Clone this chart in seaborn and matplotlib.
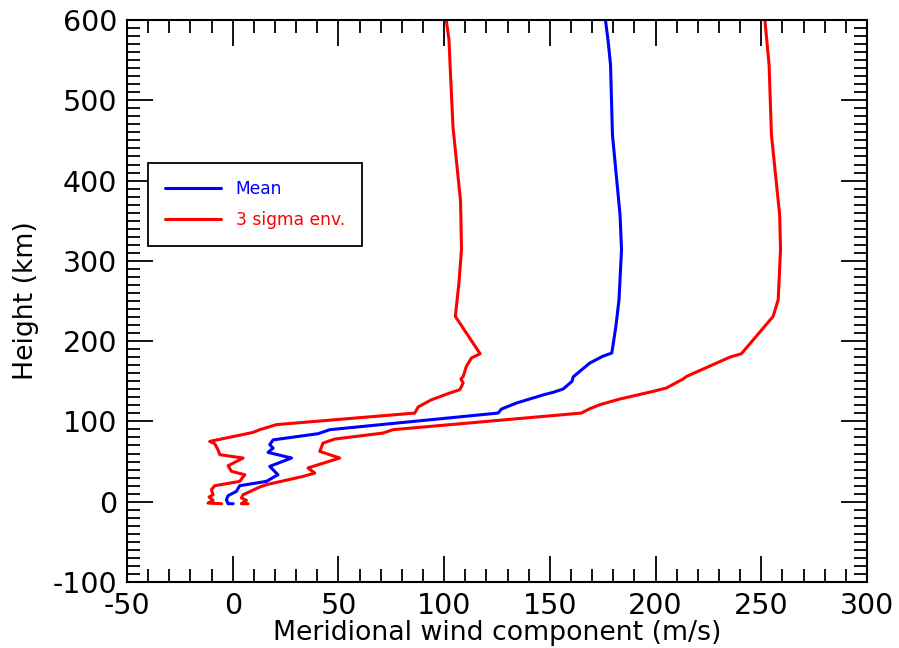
import numpy as np
import pandas as pd
import matplotlib
matplotlib.use('Agg')
import matplotlib.pyplot as plt
import seaborn as sns
from matplotlib.ticker import MultipleLocator

# Mean meridional wind profile (m/s) vs height (km)
mean_u = [0.2, -2.2, -3.0, -2.2, 1.7, 3.3, 15.9, 21.4, 17.5, 27.8, 16.7, 19.1, 17.5, 19.1,
          40.4, 45.9, 125.5, 127.1, 134.2, 146.8, 151.5, 156.3, 160.5, 161.0, 164.1, 168.9,
          174.9, 179.3, 181.2, 182.7, 183.9, 183.2, 179.6, 178.7, 177.5, 176.3]
mean_h = [-2.5, -2.5, 2.5, 7.5, 12.8, 19.9, 25.3, 33.6, 44.0, 54.4, 61.4, 66.8, 71.0, 77.0,
          84.7, 89.7, 110.4, 115.4, 122.9, 133.0, 136.2, 140.4, 150.0, 155.3, 162.3, 172.7,
          181.0, 185.2, 218.0, 251.6, 314.0, 357.0, 457.0, 544.0, 575.0, 600.0]

# Lower 3 sigma envelope
low_u = [-5.3, -11.7, -9.3, -11.2, -9.3, -10.1, -8.5, 3.3, 5.7, -0.6, -2.2, 4.9, -6.1, -7.0,
         -8.5, -10.9, 9.6, 12.8, 20.7, 86.1, 87.7, 94.0, 102.6, 107.4, 109.0, 107.9, 109.0,
         110.5, 112.9, 117.0, 105.3, 107.0, 108.2, 107.9, 107.7, 104.2, 102.8, 102.3, 101.0]
low_h = [-2.5, -1.7, 1.7, 5.8, 8.7, 14.9, 19.9, 25.3, 33.6, 37.8, 44.8, 54.4, 58.5, 64.8,
         72.2, 75.1, 86.3, 89.7, 96.0, 110.4, 118.0, 127.0, 135.3, 139.5, 147.8, 152.8, 156.0,
         168.5, 179.0, 184.3, 230.8, 272.7, 314.0, 357.0, 376.0, 466.0, 544.0, 575.0, 600.0]

# Upper 3 sigma envelope
high_u = [7.2, 4.1, 6.5, 4.1, 4.9, 12.8, 15.9, 33.3, 38.8, 35.6, 50.6, 41.2, 42.7, 48.2,
          71.1, 75.8, 164.9, 168.9, 173.6, 183.1, 198.8, 205.1, 213.0, 214.6, 235.1, 240.6,
          255.6, 258.0, 259.1, 258.7, 254.8, 253.7, 251.7]
high_h = [-2.5, -2.5, 1.7, 4.6, 8.7, 18.3, 21.2, 31.5, 35.7, 42.0, 54.4, 62.6, 73.0, 78.0,
          85.5, 89.7, 110.4, 115.8, 120.8, 127.9, 137.4, 141.6, 152.8, 156.0, 180.0, 184.3,
          230.8, 251.6, 314.0, 357.0, 457.0, 544.0, 600.0]

sns.set_style("white")
plt.rcParams['font.family'] = ['DejaVu Sans']
plt.rcParams['axes.unicode_minus'] = False
plt.rcParams['text.color'] = 'black'
plt.rcParams['axes.labelcolor'] = 'black'

fig = plt.figure(figsize=(8.99, 6.48), dpi=100)
ax = fig.add_axes([0.1413, 0.1019, 0.8231, 0.8672])

sns.lineplot(x=mean_u, y=mean_h, sort=False, estimator=None, color='blue', lw=2.2,
             label='Mean', ax=ax)
sns.lineplot(x=low_u, y=low_h, sort=False, estimator=None, color='red', lw=2.2,
             label='3 sigma env.', ax=ax)
sns.lineplot(x=high_u, y=high_h, sort=False, estimator=None, color='red', lw=2.2, ax=ax)

ax.set_xlim(-50, 300)
ax.set_ylim(-100, 600)
ax.xaxis.set_major_locator(MultipleLocator(50))
ax.xaxis.set_minor_locator(MultipleLocator(10))
ax.yaxis.set_major_locator(MultipleLocator(100))
ax.yaxis.set_minor_locator(MultipleLocator(10))
ax.tick_params(which='both', direction='in', bottom=True, left=True, top=True, right=True,
               width=1.3, colors='black')
ax.tick_params(which='major', length=19, labelsize=20.5, pad=7)
ax.tick_params(which='minor', length=9.5)
for s in ax.spines.values():
    s.set_linewidth(1.5)
    s.set_color('black')

ax.set_xlabel('Meridional wind component (m/s)', fontsize=19.3, labelpad=0)
ax.set_ylabel('Height (km)', fontsize=19.3, labelpad=10)

leg = ax.legend(loc='upper left', bbox_to_anchor=(0.028, 0.746), borderaxespad=0,
                fontsize=12.3, handlelength=3.3, handletextpad=0.85, borderpad=1.0,
                labelspacing=0.78, fancybox=False, framealpha=1, edgecolor='black')
leg.get_frame().set_linewidth(1.3)
for txt, c in zip(leg.get_texts(), ['blue', 'red']):
    txt.set_color(c)

fig.savefig('out.png', dpi=100)
